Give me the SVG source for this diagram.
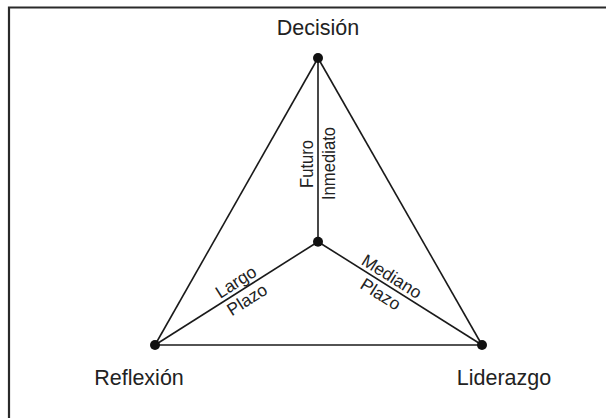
<svg xmlns="http://www.w3.org/2000/svg" width="606" height="418" viewBox="0 0 606 418">
<style>
.lbl{font-family:"Liberation Sans",Arial,sans-serif;font-size:21.5px;fill:#222;text-anchor:middle}
.sm{font-family:"Liberation Sans",Arial,sans-serif;font-size:17.5px;fill:#222;text-anchor:middle}
.edge{stroke:#1a1a1a;stroke-width:1.6;fill:none}
.dot{fill:#111}
</style>
<rect x="0" y="0" width="606" height="418" fill="#fff"/>
<path d="M9,418 V7.5 H606" stroke="#2a2a2a" stroke-width="2.2" fill="none"/>
<g id="connectors">
<line class="edge" x1="318" y1="58" x2="155" y2="345"/>
<line class="edge" x1="318" y1="58" x2="482" y2="345"/>
<line class="edge" x1="155" y1="345" x2="482" y2="345"/>
<line class="edge" x1="318" y1="58" x2="318" y2="241.7"/>
<line class="edge" x1="318" y1="241.7" x2="155" y2="345"/>
<line class="edge" x1="318" y1="241.7" x2="482" y2="345"/>
<text class="sm" transform="translate(313,164) rotate(-90)" x="0" y="0" textLength="48" lengthAdjust="spacingAndGlyphs">Futuro</text>
<text class="sm" transform="translate(335,163.5) rotate(-90)" x="0" y="0" textLength="73" lengthAdjust="spacingAndGlyphs">Inmediato</text>
<text class="sm" transform="translate(241.2,290.3) rotate(-32.4)" x="0" y="-4">Largo</text>
<text class="sm" transform="translate(241.2,290.3) rotate(-32.4)" x="0" y="17">Plazo</text>
<text class="sm" transform="translate(386.5,284.9) rotate(32.2)" x="0" y="-4">Mediano</text>
<text class="sm" transform="translate(386.5,284.9) rotate(32.2)" x="0" y="17">Plazo</text>
</g>
<g id="decision"><circle class="dot" cx="318" cy="58" r="5"/><text class="lbl" x="318" y="35">Decisión</text></g>
<g id="center"><circle class="dot" cx="318" cy="241.7" r="5"/></g>
<g id="reflexion"><circle class="dot" cx="155" cy="345" r="5"/><text class="lbl" x="139" y="385">Reflexión</text></g>
<g id="liderazgo"><circle class="dot" cx="482" cy="345" r="5"/><text class="lbl" x="504" y="385">Liderazgo</text></g>
</svg>
